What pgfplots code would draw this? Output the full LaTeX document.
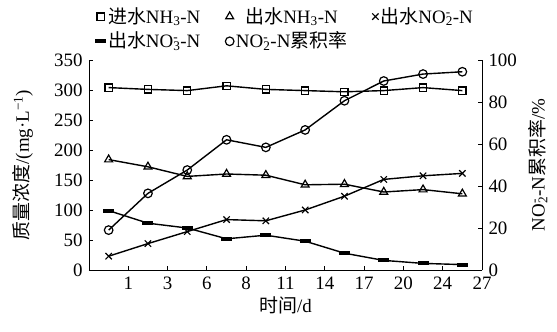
\documentclass[border=0pt]{standalone}
\usepackage{pgfplots}
\pgfplotsset{compat=1.18}
\usepackage{fontspec}
\setmainfont{Liberation Serif}
\newfontfamily\cjk{Noto Sans CJK SC}
\pgfdeclareplotmark{hbar}{\pgfpathrectangle{\pgfqpoint{-5.5bp}{-2bp}}{\pgfqpoint{11bp}{4bp}}\pgfusepathqfill}
\begin{document}
\fontsize{19}{22}\selectfont
\begin{tikzpicture}
\pgfplotsset{
  every axis/.append style={font=\fontsize{19}{22}\selectfont},
  /pgf/number format/assume math mode=true,
}
\path[use as bounding box] (-89bp,-62bp) rectangle (468bp,270bp);
\begin{axis}[
  scale only axis, width=393bp, height=210bp,
  xmin=0, xmax=10, ymin=0, ymax=350,
  axis y line*=left, axis x line*=bottom,
  axis line style={-, line width=0.9bp},
  xtick={1,...,10}, xticklabels={1,3,6,8,11,14,17,20,24,27},
  ytick={0,50,...,350},
  tick align=inside, major tick length=4bp,
  tick style={line width=0.9bp, black},
  xlabel={{\cjk 时间}/d},
  ylabel={{\cjk 质量浓度}/(mg·L\textsuperscript{−1})},
  every axis y label/.style={at={(axis description cs:-0.168,0.5)}, rotate=90, anchor=center},
  every axis x label/.style={at={(axis description cs:0.5,-0.167)}, anchor=center},
  legend columns=3,
  legend style={at={(axis description cs:0.015,1.262)}, anchor=north west, draw=none, fill=none, inner sep=0pt, row sep=2bp,
    font=\fontsize{19}{22}\selectfont,
    /tikz/every even column/.append style={column sep=23bp},
    nodes={inner xsep=2bp}},
  legend image code/.code={\draw[#1,only marks] plot coordinates {(0.12cm,0cm)};},
  every axis plot/.append style={black, line width=1.4bp, mark options={solid, line width=1.2bp}},
]
\addplot[mark=square, mark size=3.6bp] coordinates {(0.5,304)(1.5,301)(2.5,299)(3.5,307)(4.5,301)(5.5,299)(6.5,297)(7.5,299)(8.5,304)(9.5,299)};
\addlegendentry{{\cjk 进水}NH\textsubscript{3}-N}
\addplot[mark=triangle, mark size=4.6bp] coordinates {(0.5,184)(1.5,172)(2.5,156)(3.5,160)(4.5,158)(5.5,142)(6.5,143)(7.5,130)(8.5,134)(9.5,127)};
\addlegendentry{{\cjk 出水}NH\textsubscript{3}-N}
\addplot[mark=x, mark size=4.5bp] coordinates {(0.5,23)(1.5,44)(2.5,64)(3.5,84)(4.5,82)(5.5,100)(6.5,123)(7.5,151)(8.5,157)(9.5,161)};
\addlegendentry{{\cjk 出水}NO\rlap{\textsuperscript{-}}\textsubscript{2}-N}
\addplot[mark=hbar] coordinates {(0.5,99)(1.5,78)(2.5,70)(3.5,52)(4.5,58)(5.5,48)(6.5,28)(7.5,16)(8.5,11)(9.5,9)};
\addlegendentry{{\cjk 出水}NO\rlap{\textsuperscript{-}}\textsubscript{3}-N}
\addlegendimage{black, line width=1.4bp, mark=o, mark size=4.3bp, mark options={solid, line width=1.2bp}}
\addlegendentry{NO\rlap{\textsuperscript{-}}\textsubscript{2}-N{\cjk 累积率}}
\end{axis}
\begin{axis}[
  scale only axis, width=393bp, height=210bp,
  xmin=0, xmax=10, ymin=0, ymax=100,
  axis y line*=right, axis x line=none,
  axis line style={-, line width=0.9bp},
  ytick={0,20,...,100},
  tick align=inside, major tick length=4bp,
  tick style={line width=0.9bp, black},
  ylabel={NO\rlap{\textsuperscript{-}}\textsubscript{2}-N{\cjk 累积率}/\%},
  every axis y label/.style={at={(axis description cs:1.1425,0.5)}, rotate=90, anchor=center},
  every axis plot/.append style={black, line width=1.4bp, mark options={solid, line width=1.2bp}},
]
\addplot[mark=o, mark size=4.3bp] coordinates {(0.5,19)(1.5,36.5)(2.5,47.6)(3.5,62)(4.5,58.4)(5.5,66.7)(6.5,80.6)(7.5,90)(8.5,93.3)(9.5,94.4)};
\end{axis}
\end{tikzpicture}
\end{document}
